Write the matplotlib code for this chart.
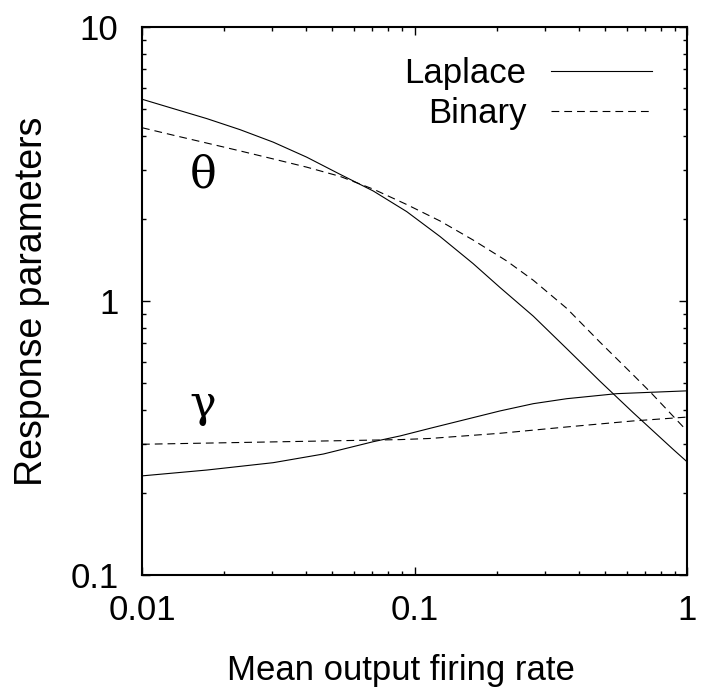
import matplotlib
matplotlib.use("Agg")
import matplotlib.pyplot as plt

# values (log-log)
x_lap_theta = [0.01, 0.013, 0.0173, 0.0229, 0.0303, 0.0402, 0.0533, 0.0706, 0.0936,
               0.124, 0.164, 0.206, 0.273, 0.362, 0.479, 0.635, 0.891, 1.0]
lap_theta = [5.45, 5.04, 4.63, 4.22, 3.80, 3.35, 2.90, 2.52, 2.12,
             1.72, 1.37, 1.12, 0.88, 0.67, 0.51, 0.391, 0.287, 0.259]

x_bin_theta = [0.01, 0.013, 0.0173, 0.0229, 0.0303, 0.0402, 0.0533, 0.0706, 0.0936,
               0.124, 0.164, 0.218, 0.273, 0.362, 0.479, 0.635, 0.731, 0.969, 1.0]
bin_theta = [4.29, 4.03, 3.77, 3.53, 3.30, 3.08, 2.85, 2.56, 2.25,
             1.96, 1.67, 1.40, 1.19, 0.94, 0.708, 0.537, 0.467, 0.347, 0.337]

x_lap_gamma = [0.01, 0.0173, 0.0303, 0.0463, 0.0706, 0.0885, 0.114, 0.206, 0.273,
               0.362, 0.552, 1.0]
lap_gamma = [0.230, 0.2416, 0.257, 0.2764, 0.3066, 0.3217, 0.343, 0.397, 0.422,
             0.440, 0.459, 0.470]

x_bin_gamma = [0.01, 0.0885, 0.114, 0.206, 0.362, 0.635, 1.0]
bin_gamma = [0.300, 0.312, 0.315, 0.329, 0.347, 0.365, 0.377]

plt.rcParams['font.family'] = ['Liberation Sans', 'DejaVu Sans']

W, H = 702, 698
fig = plt.figure(figsize=(W / 100, H / 100), dpi=100)
ax = fig.add_axes([142 / W, 1 - 575 / H, 545 / W, 548 / H])

dash = (0, (7, 4.5))
ax.plot(x_lap_theta, lap_theta, color='black', lw=0.8, label='Laplace')
ax.plot(x_bin_theta, bin_theta, color='black', lw=0.8, ls=dash, label='Binary')
ax.plot(x_lap_gamma, lap_gamma, color='black', lw=0.8)
ax.plot(x_bin_gamma, bin_gamma, color='black', lw=0.8, ls=dash)

ax.set_xscale('log')
ax.set_yscale('log')
ax.set_xlim(0.01, 1)
ax.set_ylim(0.1, 10)
ax.set_xticks([0.01, 0.1, 1])
ax.set_xticklabels(['0.01', '0.1', '1'])
ax.set_yticks([0.1, 1, 10])
ax.set_yticklabels(['0.1', '1', '10'])

ax.tick_params(which='both', direction='in', top=True, right=True, labelsize=25, width=1.0)
ax.tick_params(which='major', length=6)
ax.tick_params(which='minor', length=3)
ax.tick_params(axis='x', which='major', pad=14)
ax.tick_params(axis='y', which='major', pad=17)
for s in ax.spines.values():
    s.set_linewidth(1.5)

fig.text(401 / W, 1 - 680 / H, 'Mean output firing rate', fontsize=25,
         ha='center', va='baseline')
fig.text(32 / W, 1 - 301 / H, 'Response parameters', fontsize=27,
         rotation=90, ha='center', va='center')

ax.text(0.01675, 2.585, 'θ', fontsize=32, family='DejaVu Serif', ha='center', va='baseline')
ax.text(0.01675, 0.377, 'γ', fontsize=32, family='DejaVu Serif', ha='center', va='baseline')

leg = ax.legend(loc='upper right', frameon=False, fontsize=25, handlelength=2.9,
                handletextpad=0.72, markerfirst=False, borderpad=0, borderaxespad=0,
                labelspacing=0.2, bbox_to_anchor=((652 - 142) / 545, 1 - (57 - 27) / 548))
for t in leg.get_texts():
    t.set_ha('right')

fig.savefig('out.png', dpi=100)
